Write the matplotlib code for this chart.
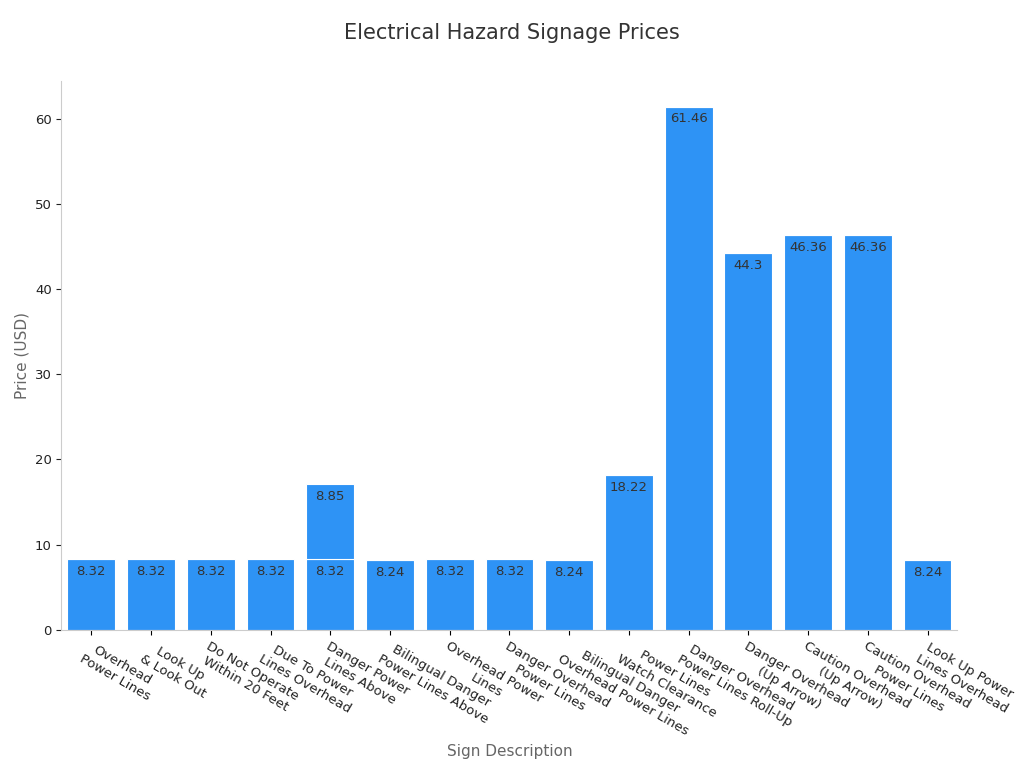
import matplotlib
matplotlib.use("Agg")
import matplotlib.pyplot as plt

categories = ["Overhead\nPower Lines", "Look Up\n& Look Out", "Do Not Operate\nWithin 20 Feet",
              "Due To Power\nLines Overhead", "Danger Power\nLines Above", "Bilingual Danger\nPower Lines Above",
              "Overhead Power\nLines", "Danger Overhead\nPower Lines", "Bilingual Danger\nOverhead Power Lines",
              "Power Lines\nWatch Clearance", "Danger Overhead\nPower Lines Roll-Up", "Danger Overhead\n(Up Arrow)",
              "Caution Overhead\n(Up Arrow)", "Caution Overhead\nPower Lines", "Look Up Power\nLines Overhead"]
base_prices = [8.32, 8.32, 8.32, 8.32, 8.32, 8.24, 8.32, 8.32, 8.24, 18.22, 61.46, 44.3, 46.36, 46.36, 8.24]
extra_prices = [0, 0, 0, 0, 8.85, 0, 0, 0, 0, 0, 0, 0, 0, 0, 0]

fig, ax = plt.subplots(figsize=(10.24, 7.68), dpi=100)
fig.subplots_adjust(left=0.06, right=0.935, top=0.895, bottom=0.18)
color = "#2E93F5"
x = list(range(len(categories)))
ax.bar(x, base_prices, width=0.8, color=color, edgecolor="white", linewidth=0.8)
ax.bar(x, extra_prices, bottom=base_prices, width=0.8, color=color, edgecolor="white", linewidth=0.8)
for i, v in enumerate(base_prices):
    ax.text(i, v - 0.7, f"{v:g}", ha="center", va="top", fontsize=9.5, color="#333333")
for i, v in enumerate(extra_prices):
    if v:
        ax.text(i, base_prices[i] + v - 0.7, f"{v:g}", ha="center", va="top", fontsize=9.5, color="#333333")

ax.set_xlim(-0.5, len(categories) - 0.5)
ax.set_ylim(0, 64.5)
ax.set_xticks(x)
ax.set_xticklabels(categories, rotation=-30, ha="left", rotation_mode="anchor", fontsize=9.5,
                   multialignment="center", color="#222222")
ax.tick_params(axis="y", labelsize=9.5, colors="#222222")
ax.set_ylabel("Price (USD)", fontsize=11, color="#666666")
ax.set_xlabel("Sign Description", fontsize=11, color="#666666")
fig.text(0.5, 0.957, "Electrical Hazard Signage Prices", fontsize=15, color="#333333",
         ha="center", va="center")
for s in ["top", "right"]:
    ax.spines[s].set_visible(False)
for s in ["left", "bottom"]:
    ax.spines[s].set_color("#cccccc")
fig.savefig("out.png")
